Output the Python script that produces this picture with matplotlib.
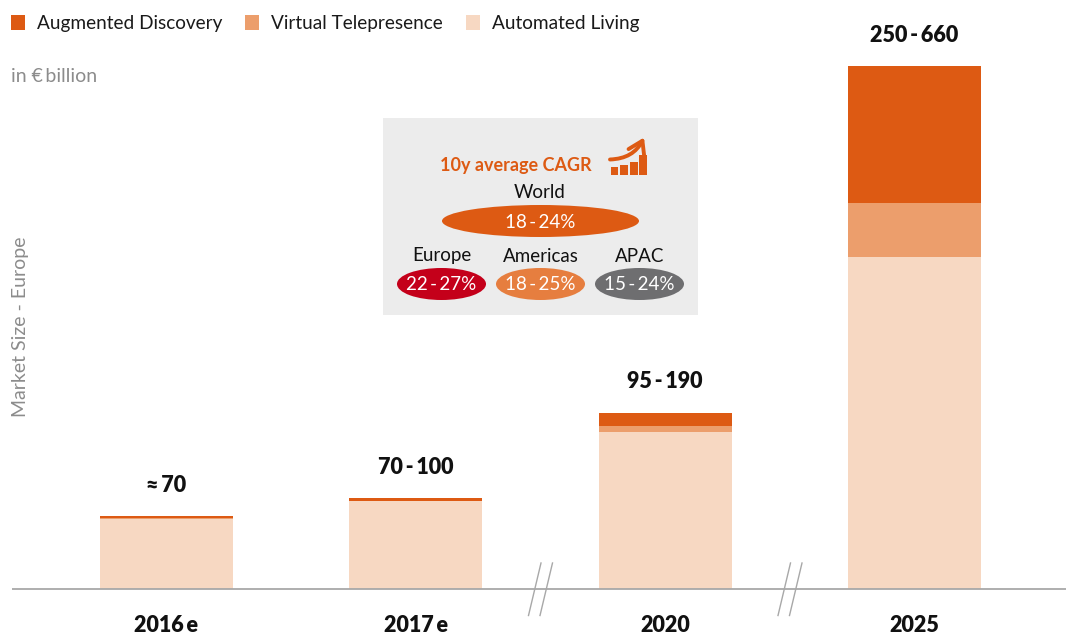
import matplotlib
matplotlib.use("Agg")
import matplotlib.pyplot as plt
from matplotlib.patches import Ellipse, FancyArrowPatch, Rectangle

plt.rcParams["font.family"] = ["Lato", "DejaVu Sans"]

# values, scaled so the 2025 stack tops out at 660
years = ["2016\u2009e", "2017\u2009e", "2020", "2025"]
range_labels = ["\u2248\u200970", "70\u2009-\u2009100", "95\u2009-\u2009190", "250\u2009-\u2009660"]
automated_living = [89, 111, 198, 419]
virtual_telepresence = [0.5, 0.5, 8, 68]
augmented_discovery = [3, 4, 16, 173]

series_names = ["Augmented Discovery", "Virtual Telepresence", "Automated Living"]
regions = ["Europe", "Americas", "APAC"]
region_cagr = ["22\u2009-\u200927%", "18\u2009-\u200925%", "15\u2009-\u200924%"]
world_cagr = "18\u2009-\u200924%"
icon_bars = [8, 10, 13.5, 20]

DARK = "#DD5A13"
MID = "#EC9E6C"
LIGHT = "#F7D8C2"
GREY_TXT = "#8C8C8C"
REGION_COLORS = ["#C4001A", "#E67E3F", "#6E6E70"]

fig = plt.figure(figsize=(10.66, 6.35), dpi=100, facecolor="white")

# bars: axes runs the full width, baseline sits at y=589 px
ax = fig.add_axes([0, 46 / 635, 1, 589 / 635])
ax.set_xlim(-0.668, 3.608)
ax.set_ylim(0, 589 / 0.792)
ax.axis("off")
x = range(len(years))
bottom2 = [a + b for a, b in zip(automated_living, virtual_telepresence)]
ax.bar(x, automated_living, width=0.533, color=LIGHT, linewidth=0)
ax.bar(x, virtual_telepresence, width=0.533, bottom=automated_living, color=MID, linewidth=0)
ax.bar(x, augmented_discovery, width=0.533, bottom=bottom2, color=DARK, linewidth=0)

# overlay in pixel coordinates for labels and decoration
ov = fig.add_axes([0, 0, 1, 1], facecolor="none")
ov.set_xlim(0, 1066)
ov.set_ylim(635, 0)
ov.axis("off")

ov.plot([12, 1066], [589, 589], color="#A8A8A8", lw=1.3, solid_capstyle="butt")

for x0 in (528.5, 778):
    for dx in (0, 11.5):
        ov.plot([x0 + dx, x0 + dx + 12.5], [615.5, 563], color="#A8A8A8", lw=1)

# legend
for lx, tx, name, col in zip([11, 245, 466], [37, 271, 492], series_names, [DARK, MID, LIGHT]):
    ov.add_patch(Rectangle((lx, 15), 14, 15, color=col, lw=0))
    ov.text(tx, 23, name, fontsize=13.7, color="#1A1A1A", va="center", ha="left")

ov.text(11, 76, "in \u20ac\u2009billion", fontsize=14, color=GREY_TXT, va="center", ha="left")
ov.text(21, 327, "Market Size - Europe", fontsize=14, color=GREY_TXT, va="center", ha="center",
        rotation=90)

# bar labels
for cx, yr, rng, ly in zip([166.5, 415.5, 665, 914.5], years, range_labels, [486, 468, 382, 36]):
    ov.text(cx, 625.5, yr, fontsize=15.5, fontweight="heavy", color="#111111", va="center", ha="center")
    ov.text(cx, ly, rng, fontsize=15.5, fontweight="heavy", color="#111111", va="center", ha="center")

# CAGR box
ov.add_patch(Rectangle((383, 118), 315, 197, color="#ECECEC", lw=0))
ov.text(516, 165, "10y average CAGR", fontsize=13, fontweight="bold", color=DARK, va="center", ha="center")
for bx, h in zip([611, 620.3, 630.3, 639.3], icon_bars):
    ov.add_patch(Rectangle((bx, 175 - h), 7.2, h, color=DARK, lw=0))
ov.add_patch(FancyArrowPatch((610, 159.5), (644, 137.5), connectionstyle="arc3,rad=0.3",
                             arrowstyle="->,head_length=7,head_width=4.5", mutation_scale=1.4,
                             color=DARK, lw=2.8, shrinkA=0, shrinkB=0))

ov.text(540, 193, "World", fontsize=13.5, color="#111111", va="center", ha="center")
ov.add_patch(Ellipse((540.5, 221), 197, 32, color=DARK, lw=0))
ov.text(540.5, 222, world_cagr, fontsize=13.5, color="white", va="center", ha="center")

for cx, reg, val, col in zip([441.5, 540.5, 639.5], regions, region_cagr, REGION_COLORS):
    ov.text(cx, 256, reg, fontsize=13.5, color="#111111", va="center", ha="center")
    ov.add_patch(Ellipse((cx, 284), 89, 32, color=col, lw=0))
    ov.text(cx, 285, val, fontsize=13.5, color="white", va="center", ha="center")

fig.savefig("out.png", dpi=100)
